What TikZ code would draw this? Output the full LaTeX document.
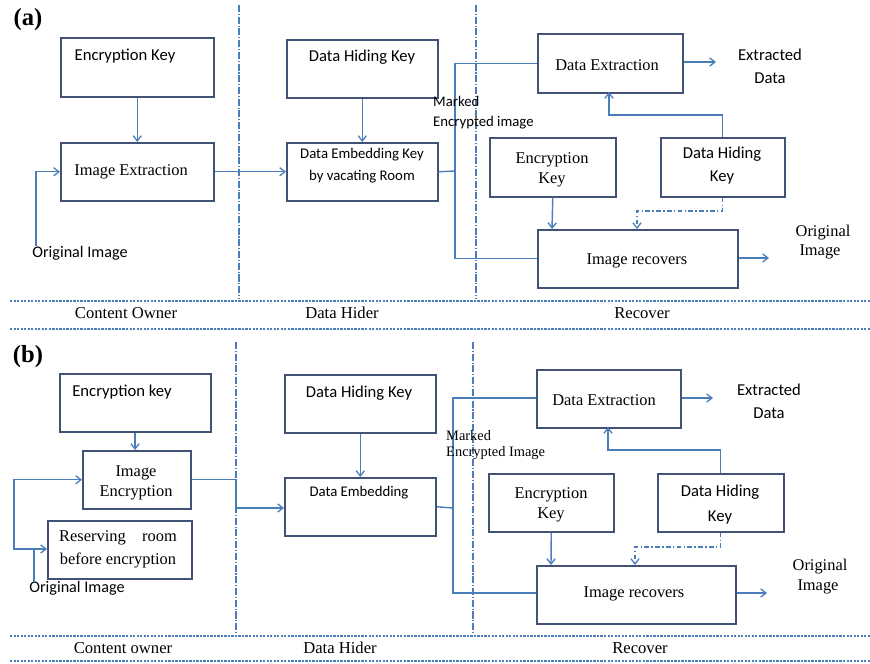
\documentclass[tikz,border=0pt]{standalone}
\usepackage{fontspec}
\setmainfont{Liberation Serif}
\newfontfamily\calfont{Carlito}
\usetikzlibrary{arrows.meta}
\definecolor{flow}{RGB}{74,126,187}
\definecolor{edge}{RGB}{66,82,116}
\tikzset{
  blk/.style={draw=edge,line width=1.3pt,anchor=north west,inner sep=0pt},
  ln/.style={draw=flow,line width=1.2pt},
  tip/.style={-{Straight Barb[length=4.5pt,width=7pt,line width=1.1pt]}},
  arr/.style={ln,tip},
  dd/.style={ln,dash pattern=on 4pt off 2pt on 1.2pt off 2pt},
  sep/.style={draw=flow,line width=1pt,dash pattern=on 2pt off 1pt},
  lane/.style={draw=flow,line width=1pt,dash pattern=on 6pt off 1.5pt on 1pt off 1.5pt},
  sf/.style={font=\calfont\fontsize{14.2}{15}\selectfont,inner sep=0pt,align=center},
  sfs/.style={font=\calfont\fontsize{12.6}{14}\selectfont,inner sep=0pt,align=center},
  rm/.style={font=\fontsize{14}{15}\selectfont,inner sep=0pt,align=center},
  lbl/.style={font=\fontsize{14.2}{15}\selectfont,inner sep=0pt},
  tag/.style={font=\bfseries\fontsize{21}{22}\selectfont,inner sep=0pt}
}
\begin{document}
\begin{tikzpicture}[x=0.03cm,y=-0.03cm]
\useasboundingbox (0,0) rectangle (870,663);
\fill[white] (0,0) rectangle (870,663);

% ---------- panel (a) ----------
\node[tag] (ta) at (28,20) {(a)};
\draw[lane] (239,5) -- (239,298);
\draw[lane] (476,5) -- (476,298);
\draw[sep] (10,301) -- (870,301);
\draw[sep] (10,329) -- (870,329);
\node[lbl] (la1) at (126,313) {Content Owner};
\node[lbl] (la2) at (342,313) {Data Hider};
\node[lbl] (la3) at (642,313) {Recover};

\node[blk,minimum width=153*0.03cm,minimum height=59*0.03cm] (aek) at (60,37) {};
\node[sf] at (125,56) {Encryption Key};
\node[blk,minimum width=153*0.03cm,minimum height=58*0.03cm] (aie) at (60,142) {};
\node[rm] at (131,172) {Image Extraction};
\draw[arr] (aek.south) -- (aie.north);
\node[sf,font=\calfont\fontsize{13.8}{15}\selectfont] (aoi) at (80,253) {Original Image};
\draw[arr] (36,246) |- (aie.west);

\node[blk,minimum width=151*0.03cm,minimum height=58*0.03cm] (ahk) at (286,39) {};
\node[sf] at (362,57) {Data Hiding Key};
\node[blk,minimum width=151*0.03cm,minimum height=58*0.03cm] (ade) at (286,142) {};
\node[sfs] at (362,155) {Data Embedding Key};
\node[sfs] at (362,177) {by vacating Room};
\draw[arr] (ahk.south) -- (ade.north);
\draw[arr] (aie.east) -- (ade.west);

\node[blk,minimum width=145*0.03cm,minimum height=59*0.03cm] (adx) at (537,33) {};
\node[rm] at (607,65) {Data Extraction};
\node[blk,minimum width=200*0.03cm,minimum height=58*0.03cm] (air) at (537,229) {};
\node[rm] at (637,261) {Image recovers};
\node[blk,minimum width=126*0.03cm,minimum height=59*0.03cm] (aek2) at (489,137) {};
\node[rm] at (552,160) {Encryption};
\node[rm] at (552,180) {Key};
\node[blk,minimum width=124*0.03cm,minimum height=59*0.03cm] (ahk2) at (660,137) {};
\node[sf] at (722,154) {Data Hiding};
\node[sf] at (722,177) {Key};

\coordinate (aj) at (455,171);
\draw[ln] (ade.east) -- (aj);
\draw[ln] (aj) |- (adx.west);
\draw[ln] (aj) |- (air.west);
\node[sfs,anchor=west] at (433,101) {Marked};
\node[sfs,anchor=west] at (433,123) {Encrypted image};

\coordinate (axo) at (716,62);
\draw[arr] (adx.east |- axo) -- (axo);
\node[sf] at (770,55) {Extracted};
\node[sf] at (770,78) {Data};
\coordinate (aro) at (769,258);
\draw[arr] (air.east |- aro) -- (aro);
\node[rm] at (823,233) {Original};
\node[rm] at (820,252) {Image};

\draw[arr] (ahk2.north) |- (609,115) -- (609,92);
\draw[arr] (aek2.south) -- (552,229);
\draw[dd,tip] (ahk2.south) |- (637,211) -- (637,229);

% ---------- panel (b) ----------
\node[tag] (tb) at (28,357) {(b)};
\draw[lane] (236,342) -- (236,633);
\draw[lane] (473,342) -- (473,633);
\draw[sep] (10,636) -- (870,636);
\draw[sep] (10,661) -- (870,661);
\node[lbl] (lb1) at (123,648) {Content owner};
\node[lbl] (lb2) at (340,648) {Data Hider};
\node[lbl] (lb3) at (640,648) {Recover};

\node[blk,minimum width=151*0.03cm,minimum height=58*0.03cm] (bek) at (59,373) {};
\node[sf] at (122,392) {Encryption key};
\node[blk,minimum width=108*0.03cm,minimum height=58*0.03cm] (bie) at (82,450) {};
\node[rm] at (136,473) {Image};
\node[rm] at (136,493) {Encryption};
\draw[arr] (bek.south -| 135,0) -- (135,450);
\node[blk,minimum width=144*0.03cm,minimum height=58*0.03cm] (brr) at (47,520) {};
\node[rm] at (118,538) {Reserving\hspace{1.0em}room};
\node[rm] at (118,560) {before encryption};
\node[sf,font=\calfont\fontsize{13.8}{15}\selectfont] (boi) at (77,588) {Original Image};
\coordinate (bj) at (34,549);
\draw[ln] (34,582) -- (bj);
\draw[arr] (bj) -- (brr.west |- bj);
\draw[arr] (bj) -- (14,549) |- (bie.west);

\node[blk,minimum width=151*0.03cm,minimum height=58*0.03cm] (bhk) at (284,374) {};
\node[sf] at (359,393) {Data Hiding Key};
\node[blk,minimum width=151*0.03cm,minimum height=58*0.03cm] (bde) at (284,477) {};
\node[sfs] at (359,493) {Data Embedding};
\draw[arr] (bhk.south) -- (bde.north);
\draw[arr] (bie.east) -| (236,508) -- (bde.west |- 0,508);

\node[blk,minimum width=144*0.03cm,minimum height=58*0.03cm] (bdx) at (536,369) {};
\node[rm] at (604,400) {Data Extraction};
\node[blk,minimum width=199*0.03cm,minimum height=58*0.03cm] (bir) at (536,565) {};
\node[rm] at (634,594) {Image recovers};
\node[blk,minimum width=125*0.03cm,minimum height=58*0.03cm] (bek2) at (488,473) {};
\node[rm] at (551,495) {Encryption};
\node[rm] at (551,515) {Key};
\node[blk,minimum width=126*0.03cm,minimum height=58*0.03cm] (bhk2) at (657,473) {};
\node[sf] at (720,492) {Data Hiding};
\node[sf] at (720,517) {Key};

\coordinate (bjj) at (453,508);
\draw[ln] (bde.east) -- (bjj);
\draw[ln] (bjj) |- (bdx.west |- 0,398);
\draw[ln] (bjj) |- (bir.west |- 0,593);
\node[rm,font=\fontsize{12.3}{13}\selectfont,anchor=west] at (446,436) {Marked};
\node[rm,font=\fontsize{12.3}{13}\selectfont,anchor=west] at (446,453) {Encrypted Image};

\coordinate (bxo) at (713,398);
\draw[arr] (bdx.east |- bxo) -- (bxo);
\node[sf] at (769,390) {Extracted};
\node[sf] at (769,413) {Data};
\coordinate (bro) at (767,593);
\draw[arr] (bir.east |- bro) -- (bro);
\node[rm] at (820,567) {Original};
\node[rm] at (818,587) {Image};

\draw[arr] (bhk2.north) |- (608,450) -- (608,427);
\draw[arr] (bek2.south) -- (551,565);
\draw[dd,tip] (bhk2.south) |- (635,547) -- (635,565);
\end{tikzpicture}
\end{document}
